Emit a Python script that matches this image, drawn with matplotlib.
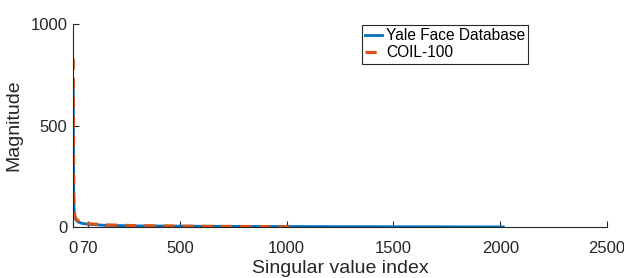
import matplotlib
matplotlib.use("Agg")
import matplotlib.pyplot as plt

# singular value spectra (index, magnitude)
yale_idx = [1, 2, 3, 4, 6, 10, 20, 40, 70, 150, 300, 600, 1000, 1500, 2014]
yale_val = [690, 420, 220, 120, 70, 42, 28, 19, 14, 9, 6, 4, 3, 2, 1]
coil_idx = [1, 2, 3, 4, 6, 10, 20, 40, 70, 150, 300, 600, 1024]
coil_val = [830, 520, 260, 140, 80, 48, 34, 24, 17, 11, 7, 4, 2]

xticks = [0, 70, 500, 1000, 1500, 2000, 2500]
yticks = [0, 500, 1000]

plt.rcParams['font.family'] = ['Liberation Sans', 'DejaVu Sans']

fig = plt.figure(figsize=(6.24, 2.78), dpi=100)
ax = fig.add_axes([0.117, 0.183, 0.856, 0.730])

ax.plot(yale_idx, yale_val, color='#0072BD', lw=2.0, label='Yale Face Database')
ax.plot(coil_idx, coil_val, color='#D95319', lw=2.3, ls=(0, (3.5, 2.5)), label='COIL-100')

ax.set_xlim(0, 2500)
ax.set_ylim(0, 1000)
ax.set_xticks(xticks)
ax.set_yticks(yticks)
ax.tick_params(direction='in', length=4, width=0.8, colors='#262626', labelsize=12)
ax.tick_params(axis='x', pad=10)
ax.tick_params(axis='y', pad=4)
for s in ['top', 'right']:
    ax.spines[s].set_visible(False)
for s in ['left', 'bottom']:
    ax.spines[s].set_color('#262626')
    ax.spines[s].set_linewidth(0.8)

ax.set_xlabel('Singular value index', fontsize=14, color='#262626', labelpad=3)
ax.set_ylabel('Magnitude', fontsize=14, color='#262626', labelpad=6)

leg = ax.legend(loc='upper left', bbox_to_anchor=(362 / 624, 1 - 25 / 278),
                bbox_transform=fig.transFigure, fontsize=11.2, handlelength=1.1,
                handletextpad=0.25, borderpad=0.2, labelspacing=0.15,
                borderaxespad=0, fancybox=False, framealpha=1)
leg.get_frame().set_edgecolor('#262626')
leg.get_frame().set_linewidth(0.8)

fig.savefig('out.png', dpi=100)
